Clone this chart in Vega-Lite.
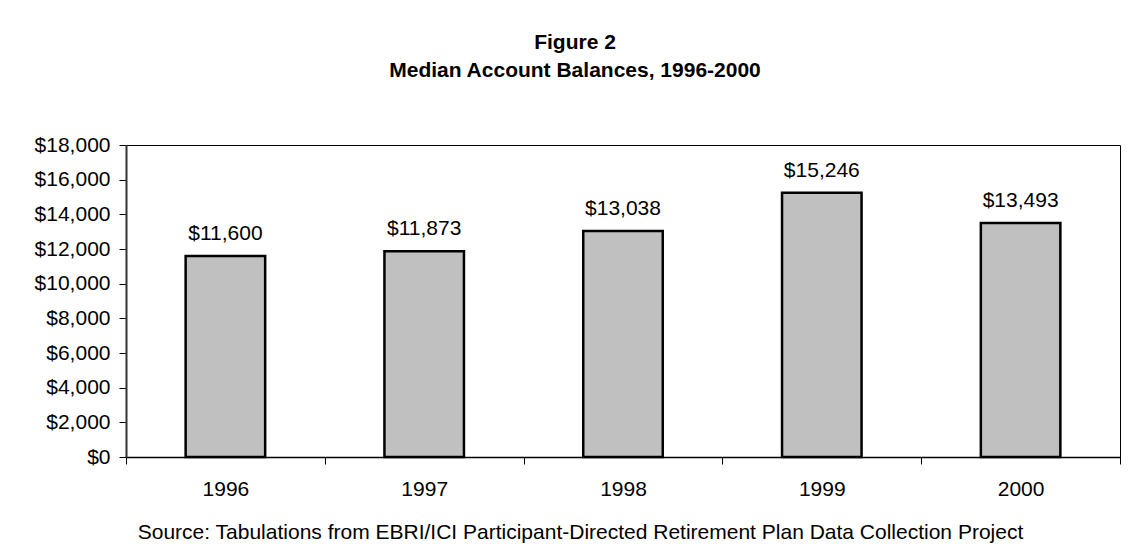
{
  "$schema": "https://vega.github.io/schema/vega-lite/v6.json",
  "width": 994,
  "height": 312,
  "autosize": {"type": "none"},
  "padding": {"left": 126, "top": 145, "right": 8, "bottom": 95},
  "background": "white",
  "title": {
    "text": ["Figure 2", "Median Account Balances, 1996-2000"],
    "font": "Liberation Sans",
    "fontSize": 21,
    "fontWeight": "bold",
    "color": "black",
    "anchor": "middle",
    "frame": "group",
    "lineHeight": 28.5,
    "dx": -48,
    "offset": 53
  },
  "data": {
    "values": [
      {"year": "1996", "balance": 11600},
      {"year": "1997", "balance": 11873},
      {"year": "1998", "balance": 13038},
      {"year": "1999", "balance": 15246},
      {"year": "2000", "balance": 13493}
    ]
  },
  "encoding": {
    "x": {
      "field": "year",
      "type": "nominal",
      "scale": {"paddingInner": 0, "paddingOuter": 0},
      "axis": {
        "title": "Source: Tabulations from EBRI/ICI Participant-Directed Retirement Plan Data Collection Project",
        "titleFont": "Liberation Sans",
        "titleFontSize": 21,
        "titleFontWeight": "normal",
        "titleColor": "black",
        "titleX": 454,
        "titleY": 81,
        "titleAlign": "center",
        "titleBaseline": "alphabetic",
        "labelAngle": 0,
        "labelFont": "Liberation Sans",
        "labelFontSize": 21,
        "labelColor": "black",
        "labelPadding": 14,
        "tickBand": "extent",
        "tickSize": 7,
        "tickColor": "black",
        "tickWidth": 1,
        "domainColor": "black",
        "domainWidth": 1.5
      }
    },
    "y": {
      "field": "balance",
      "type": "quantitative",
      "scale": {"domain": [0, 18000], "nice": false},
      "axis": {
        "title": null,
        "values": [0, 2000, 4000, 6000, 8000, 10000, 12000, 14000, 16000, 18000],
        "format": "$,.0f",
        "labelFont": "Liberation Sans",
        "labelFontSize": 21,
        "labelColor": "black",
        "labelPadding": 9,
        "tickSize": 7,
        "tickColor": "black",
        "tickWidth": 1,
        "domainColor": "#333333",
        "domainWidth": 2,
        "grid": false
      }
    }
  },
  "layer": [
    {
      "mark": {
        "type": "bar",
        "width": {"band": 0.4},
        "fill": "#C0C0C0",
        "stroke": "black",
        "strokeWidth": 2.5
      }
    },
    {
      "mark": {
        "type": "text",
        "font": "Liberation Sans",
        "fontSize": 21,
        "color": "black",
        "baseline": "alphabetic",
        "dy": -16
      },
      "encoding": {
        "text": {"field": "balance", "type": "quantitative", "format": "$,.0f"}
      }
    }
  ],
  "config": {
    "view": {"stroke": "black", "strokeWidth": 1}
  }
}
